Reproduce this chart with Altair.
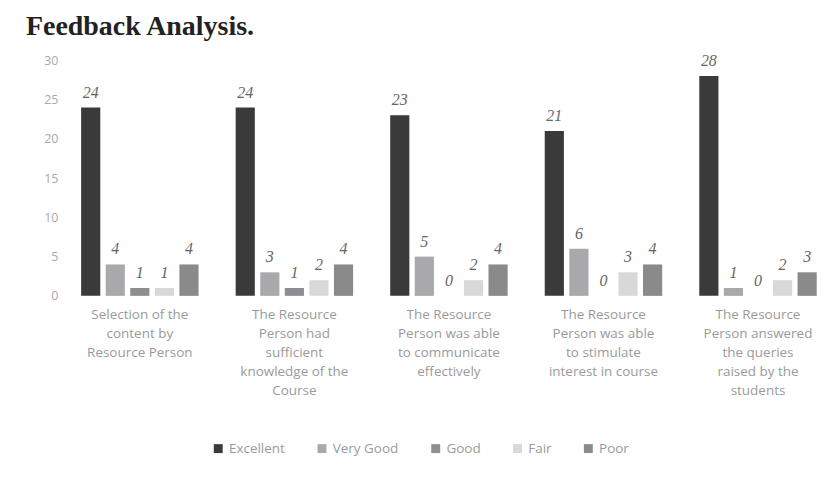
import altair as alt
import pandas as pd

categories = [
    "Selection of the\ncontent by\nResource Person",
    "The Resource\nPerson had\nsufficient\nknowledge of the\nCourse",
    "The Resource\nPerson was able\nto communicate\neffectively",
    "The Resource\nPerson was able\nto stimulate\ninterest in course",
    "The Resource\nPerson answered\nthe queries\nraised by the\nstudents",
]
ratings = ["Excellent", "Very Good", "Good", "Fair", "Poor"]
excellent = [24, 24, 23, 21, 28]
very_good = [4, 3, 5, 6, 1]
good = [1, 1, 0, 0, 0]
fair = [1, 2, 2, 3, 2]
poor = [4, 4, 4, 4, 3]
colors = ["#3a3a3a", "#a9a9ab", "#8e8e92", "#d8d8d8", "#8a8a8a"]

series = [excellent, very_good, good, fair, poor]
rows = []
for r, vals in zip(ratings, series):
    for c, v in zip(categories, vals):
        rows.append({"category": c, "rating": r, "value": v})
df = pd.DataFrame(rows)

x = alt.X("category:N", sort=categories, title=None,
          scale=alt.Scale(paddingInner=0.24, paddingOuter=0.06),
          axis=alt.Axis(labelAngle=0, labelExpr="split(datum.label, '\\n')",
                        labelFont="Open Sans", labelFontSize=13.5, labelColor="#9a9a9a",
                        labelLineHeight=19, domain=False, ticks=False, labelPadding=12,
                        labelLimit=220))
xo = alt.XOffset("rating:N", sort=ratings, scale=alt.Scale(paddingInner=0.22))
y = alt.Y("value:Q", title=None, scale=alt.Scale(domain=[0, 30]),
          axis=alt.Axis(values=[0, 5, 10, 15, 20, 25, 30], grid=False, domain=False,
                        ticks=False, labelFont="Open Sans", labelFontSize=12.5,
                        labelColor="#aaaaaa", labelPadding=14))

base = alt.Chart(df)
bars = base.mark_bar().encode(
    x=x, xOffset=xo, y=y,
    color=alt.Color("rating:N", sort=ratings,
                    scale=alt.Scale(domain=ratings, range=colors),
                    legend=alt.Legend(orient="none", legendX=140, legendY=382,
                                      direction="horizontal", title=None,
                                      symbolType="square", symbolSize=80,
                                      labelFont="Open Sans", labelFontSize=13.5,
                                      labelColor="#9a9a9a", columnPadding=30)),
)
labels = base.mark_text(dy=-15, font="Liberation Serif", fontSize=16,
                        fontStyle="italic", color="#666666").encode(
    x=x, xOffset=xo, y=y, text="value:Q")

chart = (bars + labels).properties(
    width=756, height=236,
    title=alt.Title("Feedback Analysis.", anchor="start", frame="group",
                    font="Liberation Serif", fontSize=28, fontWeight="bold",
                    color="#222222", offset=12, dx=-46),
).configure_view(stroke=None).properties(padding={"left": 18, "top": 4, "right": 0, "bottom": 5})

chart.save("out.html", embed_options={"renderer": "svg", "actions": False})
